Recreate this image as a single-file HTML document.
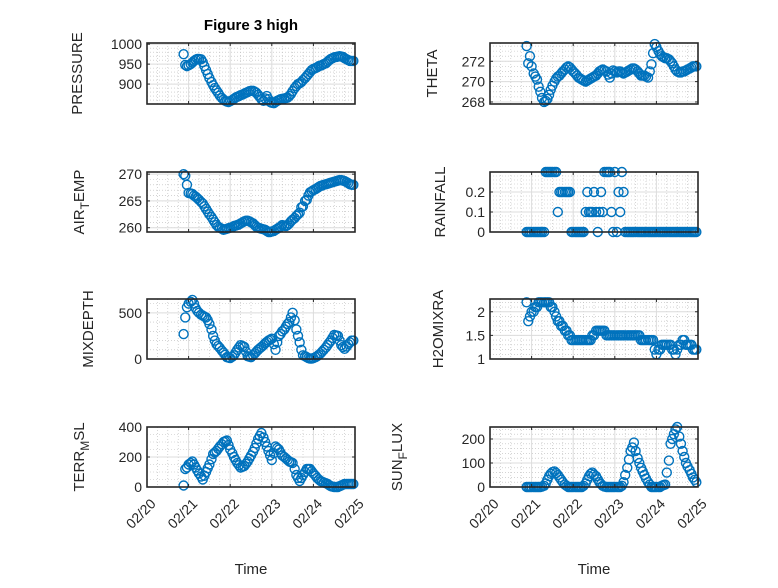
<!DOCTYPE html>
<html><head><meta charset="utf-8"><style>
html,body{margin:0;padding:0;background:#fff;}
svg text{font-family:"Liberation Sans",sans-serif;fill:#262626;}
</style></head><body>
<svg id="fig" width="778" height="583" viewBox="0 0 778 583" xmlns="http://www.w3.org/2000/svg">
<rect width="778" height="583" fill="#fff"/>
<text x="251" y="30" text-anchor="middle" font-size="15" font-weight="bold" style="fill:#000">Figure 3 high</text>
</svg>
<script>
const times=[20.88,20.92,20.96,21.00,21.05,21.09,21.13,21.17,21.21,21.25,21.30,21.34,21.38,21.42,21.46,21.50,21.55,21.59,21.63,21.67,21.71,21.75,21.80,21.84,21.88,21.92,21.96,22.00,22.05,22.09,22.13,22.17,22.21,22.25,22.30,22.34,22.38,22.42,22.46,22.50,22.55,22.59,22.63,22.67,22.71,22.75,22.80,22.84,22.88,22.92,22.96,23.00,23.05,23.09,23.13,23.17,23.21,23.25,23.30,23.34,23.38,23.42,23.46,23.50,23.55,23.59,23.63,23.67,23.71,23.75,23.80,23.84,23.88,23.92,23.96,24.00,24.05,24.09,24.13,24.17,24.21,24.25,24.30,24.34,24.38,24.42,24.46,24.50,24.55,24.59,24.63,24.67,24.71,24.75,24.80,24.84,24.88,24.92,24.96];
const pressure=[975,948,945,947,950,954,958,961,963,963,962,955,945,935,925,915,905,897,890,884,878,871,865,861,858,856,855,857,860,863,866,868,870,872,874,876,878,880,882,883,883,881,878,873,868,862,858,864,870,862,855,853,852,855,858,860,862,863,864,865,866,870,875,882,890,895,900,902,905,910,915,920,925,930,935,938,940,942,945,946,948,950,952,956,960,963,965,967,968,969,970,969,968,965,962,960,958,958,958];
const theta=[273.5,271.8,272.5,271.5,270.8,270.5,270.2,269.5,269.0,268.4,268.0,268.1,268.3,268.7,269.2,269.6,270.0,270.3,270.5,270.6,270.8,271.0,271.2,271.4,271.5,271.4,271.2,271.0,270.8,270.6,270.4,270.3,270.2,270.1,270.0,270.1,270.2,270.3,270.4,270.5,270.6,270.8,271.0,271.1,271.2,271.1,271.0,270.7,270.4,270.8,271.1,271.0,270.9,271.0,271.0,270.9,270.8,270.9,271.0,271.1,271.2,271.3,271.3,271.2,271.0,270.8,270.6,270.6,270.6,270.5,270.4,271.0,271.7,272.8,273.7,273.4,273.0,272.7,272.5,272.4,272.3,272.3,272.2,272.0,271.8,271.5,271.2,271.0,270.9,270.9,271.0,271.0,271.1,271.2,271.3,271.4,271.5,271.5,271.5];
const airTemp=[270,269.7,268.0,266.5,266.4,266.3,266.0,265.8,265.5,265.2,264.8,264.5,264.0,263.5,263.0,262.5,262.0,261.5,261.0,260.5,260.2,260.0,259.8,259.6,259.7,259.8,259.9,260.0,260.1,260.3,260.4,260.5,260.6,260.8,261.0,261.2,261.3,261.3,261.2,261.0,260.8,260.5,260.2,260.0,259.9,259.8,259.7,259.6,259.4,259.2,259.2,259.3,259.4,259.6,259.8,260.0,260.2,260.5,260.4,260.3,260.5,260.8,261.2,261.5,261.8,262.2,262.5,262.8,263.8,264.0,265.0,265.2,266.0,266.6,266.8,267.0,267.2,267.4,267.6,267.8,267.9,268.0,268.1,268.2,268.3,268.4,268.5,268.6,268.7,268.8,268.9,268.9,268.8,268.7,268.5,268.3,268.1,268.0,268.0];
const rainfall=[0,0,0,0,0,0,0,0,0,0,0,0.3,0.3,0.3,0.3,0.3,0.3,0.3,0.1,0.2,0.2,0.2,0.2,0.2,0.2,0.2,0,0,0,0,0,0,0,0,0.1,0.2,0.1,0.1,0.1,0.2,0.1,0,0.1,0.2,0.1,0.3,0.3,0.3,0.3,0.1,0,0.3,0,0.2,0.1,0.3,0.2,0,0,0,0,0,0,0,0,0,0,0,0,0,0,0,0,0,0,0,0,0,0,0,0,0,0,0,0,0,0,0,0,0,0,0,0,0,0,0,0,0,0];
const mixDepth=[270,450,560,600,620,640,600,550,520,500,480,470,460,450,420,380,320,250,200,160,140,120,90,70,45,20,15,10,25,40,70,100,125,150,140,130,80,30,25,20,40,60,80,100,115,130,150,170,185,200,210,220,160,100,180,250,270,300,320,350,380,400,450,500,420,320,250,180,100,40,30,20,10,5,5,10,20,30,45,60,80,100,125,150,175,200,230,260,255,250,200,150,130,110,135,160,180,200,200];
const h2oMix=[2.2,1.8,1.9,2.0,2.0,2.1,2.1,2.2,2.2,2.2,2.2,2.2,2.2,2.2,2.1,2.1,2.0,1.9,1.8,1.8,1.7,1.7,1.6,1.6,1.5,1.5,1.4,1.4,1.4,1.4,1.4,1.4,1.4,1.4,1.4,1.4,1.4,1.4,1.5,1.5,1.6,1.6,1.6,1.6,1.6,1.6,1.5,1.5,1.5,1.5,1.5,1.5,1.5,1.5,1.5,1.5,1.5,1.5,1.5,1.5,1.5,1.5,1.5,1.5,1.5,1.5,1.4,1.4,1.4,1.4,1.4,1.4,1.4,1.4,1.2,1.1,1.2,1.2,1.3,1.3,1.3,1.3,1.3,1.3,1.2,1.2,1.1,1.2,1.3,1.3,1.4,1.4,1.3,1.3,1.3,1.3,1.2,1.2,1.2];
const terrMsl=[10,120,130,150,160,170,150,130,110,90,70,50,75,100,125,150,185,220,230,240,255,270,285,300,305,310,280,250,225,200,180,160,145,130,135,140,155,170,190,210,235,260,290,320,340,360,330,300,270,240,210,180,225,270,260,250,230,210,200,190,180,170,165,160,120,80,60,40,60,80,100,120,120,120,105,90,75,60,50,40,35,30,25,20,12,5,2,0,0,0,5,10,15,20,20,20,20,20,20];
const sunFlux=[0,0,0,0,0,0,0,0,0,2,5,15,30,45,55,62,65,58,50,40,30,20,10,5,0,0,0,0,0,0,0,0,0,5,15,30,45,55,60,52,45,32,20,12,5,2,0,0,0,0,0,0,0,0,0,5,20,50,80,115,150,165,185,150,120,100,80,65,50,35,20,10,0,0,0,0,0,0,5,8,10,60,110,180,200,220,240,250,210,180,150,125,100,85,70,55,40,30,20,10,0];
const xTicks=[20,21,22,23,24,25];
const xTickLabels=["02/20","02/21","02/22","02/23","02/24","02/25"];

const NS="http://www.w3.org/2000/svg";
const svg=document.getElementById('fig');
function mk(tag,attrs,parent){const e=document.createElementNS(NS,tag);for(const k in attrs)e.setAttribute(k,attrs[k]);(parent||svg).appendChild(e);return e;}

const panels=[
 {name:'pressure',data:pressure,x0:147,x1:355,y0:43,y1:104,ymin:850,ymax:1003,ticks:[900,950,1000],tl:["900","950","1000"],minor:10,label:['PRESSURE'],lx:77},
 {name:'theta',data:theta,x0:490,x1:698,y0:43,y1:104,ymin:267.8,ymax:273.8,ticks:[268,270,272],tl:["268","270","272"],minor:0.5,label:['THETA'],lx:432},
 {name:'air-temp',data:airTemp,x0:147,x1:355,y0:172,y1:232,ymin:259.2,ymax:270.4,ticks:[260,265,270],tl:["260","265","270"],minor:1,label:['AIR','T','EMP'],lx:79},
 {name:'rainfall',data:rainfall,x0:490,x1:698,y0:172,y1:232,ymin:0,ymax:0.3,ticks:[0,0.1,0.2],tl:["0","0.1","0.2"],minor:0.02,label:['RAINFALL'],lx:440},
 {name:'mix-depth',data:mixDepth,x0:147,x1:355,y0:299,y1:359,ymin:0,ymax:650,ticks:[0,500],tl:["0","500"],minor:100,label:['MIXDEPTH'],lx:88},
 {name:'h2o-mix',data:h2oMix,x0:490,x1:698,y0:299,y1:359,ymin:1,ymax:2.27,ticks:[1,1.5,2],tl:["1","1.5","2"],minor:0.1,label:['H2OMIXRA'],lx:438},
 {name:'terr-msl',data:terrMsl,x0:147,x1:355,y0:427,y1:487,ymin:0,ymax:400,ticks:[0,200,400],tl:["0","200","400"],minor:50,label:['TERR','M','SL'],lx:79},
 {name:'sun-flux',data:sunFlux,x0:490,x1:698,y0:427,y1:487,ymin:0,ymax:250,ticks:[0,100,200],tl:["0","100","200"],minor:20,label:['SUN','F','LUX'],lx:397}
];

panels.forEach((p,pi)=>{
 const g=mk('g',{});
 
 
 const xs=t=>p.x0+(t-20)/(25-20)*(p.x1-p.x0);
 const ys=v=>p.y1-(v-p.ymin)/(p.ymax-p.ymin)*(p.y1-p.y0);
 mk('rect',{x:p.x0,y:p.y0,width:p.x1-p.x0,height:p.y1-p.y0,fill:'#fff'},g);
 for(let t=20;t<25;t+=0.25){const x=xs(t);if(Math.abs(t-Math.round(t))<1e-6)continue;mk('line',{x1:x,x2:x,y1:p.y0,y2:p.y1,stroke:'#bbb','stroke-width':0.6,'stroke-dasharray':'1,2'},g);}
 const start=Math.ceil(p.ymin/p.minor)*p.minor;
 for(let v=start;v<=p.ymax+1e-9;v+=p.minor){const y=ys(v);mk('line',{x1:p.x0,x2:p.x1,y1:y,y2:y,stroke:'#bbb','stroke-width':0.6,'stroke-dasharray':'1,2'},g);}
 xTicks.forEach(t=>{const x=xs(t);mk('line',{x1:x,x2:x,y1:p.y0,y2:p.y1,stroke:'#dcdcdc','stroke-width':1},g);});
 p.ticks.forEach(v=>{const y=ys(v);mk('line',{x1:p.x0,x2:p.x1,y1:y,y2:y,stroke:'#dcdcdc','stroke-width':1},g);});
 const n=Math.min(p.data.length,times.length);
 for(let i=0;i<n;i++){
  const c=mk('circle',{cx:xs(times[i]),cy:ys(p.data[i]),r:4.5,fill:'none',stroke:'#0072BD','stroke-width':1.4},g);
  
  
 }
 mk('rect',{x:p.x0,y:p.y0,width:p.x1-p.x0,height:p.y1-p.y0,fill:'none',stroke:'#262626','stroke-width':1.6},g);
 xTicks.forEach(t=>{const x=xs(t);mk('line',{x1:x,x2:x,y1:p.y1,y2:p.y1-3,stroke:'#262626'},g);mk('line',{x1:x,x2:x,y1:p.y0,y2:p.y0+3,stroke:'#262626'},g);});
 p.ticks.forEach((v,i)=>{const y=ys(v);mk('line',{x1:p.x0,x2:p.x0+3,y1:y,y2:y,stroke:'#262626'},g);mk('line',{x1:p.x1,x2:p.x1-3,y1:y,y2:y,stroke:'#262626'},g);
  const t=mk('text',{x:p.x0-5,y:y+5,'text-anchor':'end','font-size':14},g);t.textContent=p.tl[i];
  
  
 });
 const cy=(p.y0+p.y1)/2;
 const lab=mk('text',{x:p.lx,y:cy,'text-anchor':'middle','font-size':15,transform:`rotate(-90 ${p.lx} ${cy})`,dy:5},g);
 
 
 if(p.label.length===1){lab.textContent=p.label[0];}
 else{mk('tspan',{},lab).textContent=p.label[0];mk('tspan',{dy:5,'font-size':12},lab).textContent=p.label[1];mk('tspan',{dy:-5},lab).textContent=p.label[2];}
 if(pi>=6){
  xTicks.forEach((t,i)=>{const x=xs(t);const y=p.y1+12;
   const tl=mk('text',{x:x+4,y:y,'text-anchor':'end','font-size':14,transform:`rotate(-45 ${x+4} ${y})`,dy:8},g);tl.textContent=xTickLabels[i];
   
   
  });
  const xl=mk('text',{x:(p.x0+p.x1)/2,y:574,'text-anchor':'middle','font-size':15},g);xl.textContent='Time';
  
  
 }
});
</script>
</body></html>
